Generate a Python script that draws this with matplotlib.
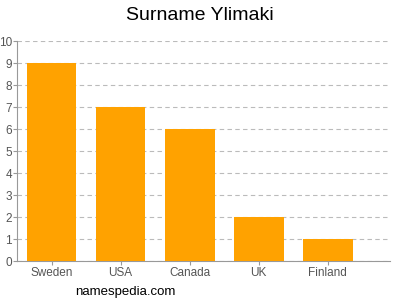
import matplotlib
matplotlib.use("Agg")
import matplotlib.pyplot as plt

plt.rcParams["font.family"] = ["Liberation Sans", "DejaVu Sans"]

countries = ["Sweden", "USA", "Canada", "UK", "Finland"]
counts = [9, 7, 6, 2, 1]
yticks = list(range(0, 11))

fig = plt.figure(figsize=(4, 3), dpi=100)
ax = fig.add_axes([0.0425, 0.13, 0.9325, 0.7333])

ax.bar(range(len(countries)), counts, width=0.72, color="#ffa200", zorder=3)
ax.set_xlim(-0.5, 4.9)
ax.set_ylim(0, 10)
ax.set_yticks(yticks)
ax.set_xticks(range(len(countries)))
ax.set_xticklabels(countries)
ax.yaxis.grid(True, linestyle=(0, (4, 3)), color="#bbbbbb", linewidth=0.8, zorder=0)

for s in ["top", "right"]:
    ax.spines[s].set_visible(False)
for s in ["left", "bottom"]:
    ax.spines[s].set_color("#999999")
ax.tick_params(colors="#555555", labelsize=8.5, length=3)
ax.tick_params(axis="x", color="#999999", pad=1.5)
ax.tick_params(axis="y", color="#999999", pad=0.5)

fig.text(0.5, 0.95, "Surname Ylimaki", ha="center", va="center", fontsize=14)
fig.text(0.1875, 0.027, "namespedia.com", ha="left", va="center", fontsize=9.5)

fig.savefig("out.png", dpi=100)
